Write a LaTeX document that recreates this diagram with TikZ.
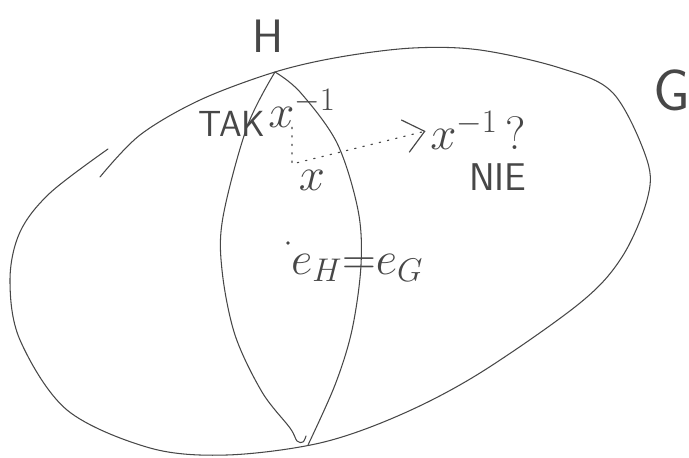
\documentclass[tikz,border=0pt]{standalone}
\usepackage{fix-cm}
\usetikzlibrary{arrows.meta, positioning}
\colorlet{pencil}{black!72}

\begin{document}
\begin{tikzpicture}[
  x=0.03cm, y=-0.03cm,
  sketch/.style={draw=pencil, line width=0.9pt, line cap=round, line join=round},
  hint/.style={draw=pencil, line width=1pt, dash pattern=on 1.2pt off 6pt, line cap=round},
  caps/.style={text=pencil, font=\fontsize{#1}{#1}\selectfont\sffamily, inner sep=0pt},
  sym/.style={text=pencil, font=\fontsize{40}{40}\selectfont, inner sep=0pt},
  dot/.style={circle, fill=pencil, minimum size=3pt, inner sep=0pt},
]
  \useasboundingbox (0,0) rectangle (689,458);

  % group G
  \draw[sketch] plot[smooth, tension=0.55] coordinates {(108,149) (50,193) (20,232) (10,280) (20,340) (67,410) (150,448) (227,455) (320,443) (400,415) (480,373) (580,303) (622,257) (647,200) (647,160) (613,93) (560,68) (480,50) (413,48) (340,57) (275,72) (200,100) (140,135) (100,177)};

  % subgroup H
  \coordinate (apex) at (275,72);
  \coordinate (foot) at (308,445);
  \draw[sketch] plot[smooth, tension=0.55] coordinates {(275,72) (247,127) (223,217) (222,270) (235,335) (262,392) (290,428) (297,441) (303,442) (306,436)};
  \draw[sketch] plot[smooth, tension=0.55] coordinates {(275,72) (300,92) (337,143) (358,210) (361,265) (352,330) (335,385) (308,445)};

  \node[caps=40] (h) at (268,36) {H};
  \node[caps=50] (g) at (672,90) {G};
  \node[caps=31] (tak) at (232,124) {TAK};
  \node[sym] (xinv) at (302,108) {$x^{-1}$};
  \node[sym] (x) at (312,180) {$x$};
  \node[sym] (xinvq) at (478,130) {$x^{-1}$\,?};
  \node[caps=33] (nie) at (498,177) {NIE};
  \node[dot] (e) at (288,243) {};
  \node[sym] (eq) at (357,268) {$e_H{=}e_G$};

  \coordinate (turn) at (292,164);
  \draw[hint, -{Straight Barb[length=6mm, width=10mm]}, shorten >=4pt] (xinv.south -| turn) -- (turn) -- (xinvq.west);
\end{tikzpicture}
\end{document}
